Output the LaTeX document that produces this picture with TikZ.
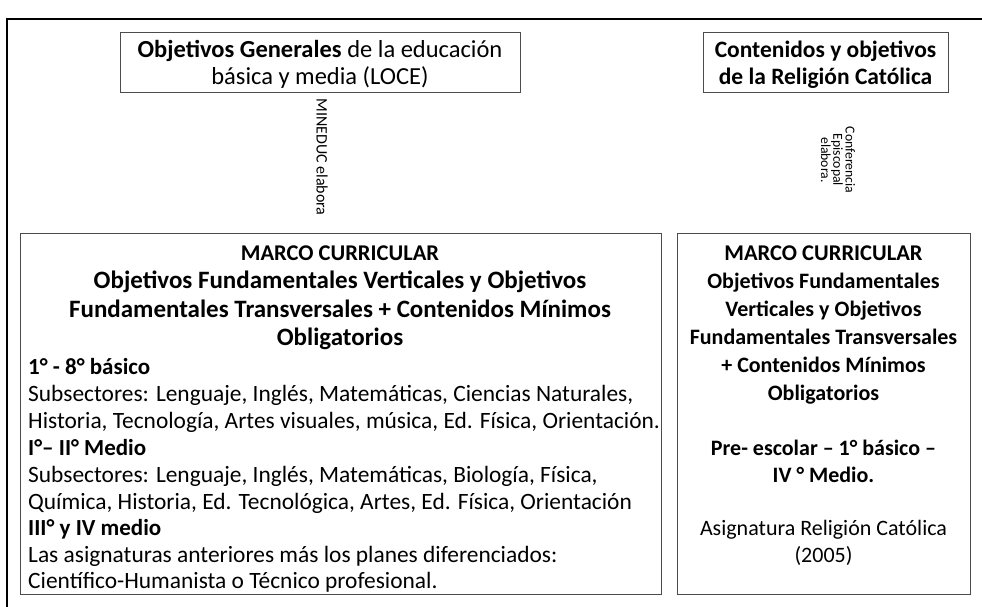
\documentclass[tikz,border=0pt]{standalone}
\usepackage{fontspec}
\setmainfont{Carlito}
\begin{document}
\begin{tikzpicture}[x=1pt,y=-1pt,
  box/.style={draw=black!70, line width=1pt, inner sep=0pt, fill=white},
  txt/.style={anchor=base, inner sep=0pt, font=\fontsize{22}{26}\selectfont},
  btxt/.style={txt, font=\fontsize{22}{26}\selectfont\bfseries},
  toptxt/.style={txt, font=\fontsize{24.5}{28}\selectfont},
  topbtxt/.style={txt, font=\fontsize{23.5}{28}\selectfont\bfseries},
  head/.style={txt, font=\fontsize{22.5}{26}\selectfont\bfseries},
  bighead/.style={txt, font=\fontsize{25}{29}\selectfont\bfseries},
  ltxt/.style={txt, anchor=base west, font=\fontsize{23.4}{27}\selectfont},
  lbtxt/.style={txt, anchor=base west, font=\fontsize{23}{27}\selectfont\bfseries},
  rot/.style={rotate=-90, inner sep=0pt, align=center}]
\useasboundingbox (0,0) rectangle (982,607);
\coordinate (fa) at (7,607);
\coordinate (fb) at (7,19);
\coordinate (fc) at (982,19);
\draw[line width=2pt] (fa) -- (fb) -- (fc);
% top boxes
\node[box, minimum width=400pt, minimum height=60pt] (gen) at (320,63) {};
\node[toptxt] (gen1) at (320,58) {\textbf{Objetivos Generales} de la educación};
\node[toptxt] (gen2) at (320,85) {básica y media (LOCE)};
\node[box, minimum width=245pt, minimum height=60pt] (rel) at (825.5,63) {};
\node[topbtxt] (rel1) at (825.5,58) {Contenidos y objetivos};
\node[topbtxt] (rel2) at (825.5,85) {de la Religión Católica};
% rotated labels
\node[rot, font=\fontsize{16}{18}\selectfont] (min) at (322,157) {MINEDUC elabora};
\node[rot, font=\fontsize{13.7}{12.3}\selectfont] (conf) at (838,160) {Conferencia\\Episcopal\\elabora.};
% big boxes
\node[box, minimum width=641pt, minimum height=361pt] (mc) at (340.5,413.5) {};
\node[box, minimum width=293pt, minimum height=361pt] (mr) at (823.5,413.5) {};
% left box text
\node[head] (l0) at (340,260) {MARCO CURRICULAR};
\node[bighead] (l1) at (340,288) {Objetivos Fundamentales Verticales y Objetivos};
\node[bighead] (l2) at (340,317) {Fundamentales Transversales + Contenidos Mínimos};
\node[bighead] (l3) at (340,345) {Obligatorios};
\node[lbtxt] (l4) at (28,374) {1° - 8° básico};
\node[ltxt] (l5) at (28,401) {Subsectores: Lenguaje, Inglés, Matemáticas, Ciencias Naturales,};
\node[ltxt] (l6) at (28,428) {Historia, Tecnología, Artes visuales, música, Ed. Física, Orientación.};
\node[lbtxt] (l7) at (28,455) {I°– II° Medio};
\node[ltxt] (l8) at (28,482) {Subsectores: Lenguaje, Inglés, Matemáticas, Biología, Física,};
\node[ltxt] (l9) at (28,509) {Química, Historia, Ed. Tecnológica, Artes, Ed. Física, Orientación};
\node[lbtxt] (l10) at (28,535) {III° y IV medio};
\node[ltxt] (l11) at (28,562) {Las asignaturas anteriores más los planes diferenciados:};
\node[ltxt] (l12) at (28,588) {Científico-Humanista o Técnico profesional.};
% right box text
\node[head] (r0) at (823.5,260) {MARCO CURRICULAR};
\node[btxt] (r1) at (823.5,288) {Objetivos Fundamentales};
\node[btxt] (r2) at (823.5,316) {Verticales y Objetivos};
\node[btxt] (r3) at (823.5,344) {Fundamentales Transversales};
\node[btxt] (r4) at (823.5,372) {+ Contenidos Mínimos};
\node[btxt] (r5) at (823.5,400) {Obligatorios};
\node[btxt] (r7) at (823.5,455) {Pre- escolar – 1° básico –};
\node[btxt] (r8) at (823.5,482) {IV ° Medio.};
\node[txt] (r10) at (823.5,535) {Asignatura Religión Católica};
\node[txt] (r11) at (823.5,562) {(2005)};
\end{tikzpicture}
\end{document}
